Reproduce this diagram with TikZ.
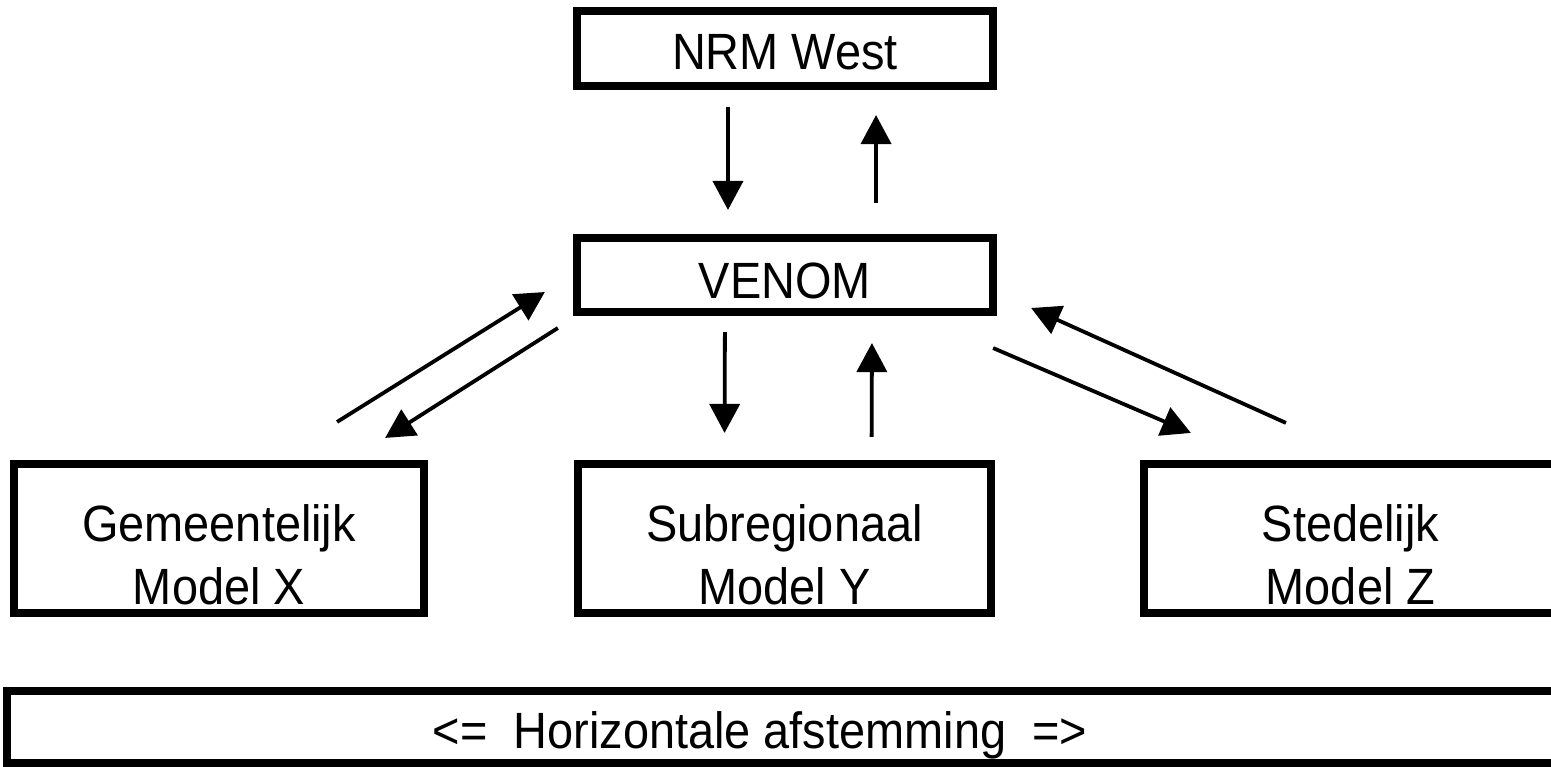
\documentclass[tikz,border=0pt]{standalone}
\usepackage{fontspec}
\setmainfont{Liberation Sans}[FakeStretch=0.92]
\usetikzlibrary{arrows.meta}

\begin{document}
\begin{tikzpicture}[x=0.01cm, y=-0.01cm]
        \tikzstyle{every node}=[font=\fontsize{14.5}{17.9}\selectfont]
        \tikzstyle{box}=[rectangle, draw, line width=0.08cm, inner sep=0pt]
        \tikzstyle{txt}=[align=center, inner sep=0pt]
        \tikzstyle{arr}=[line width=0.038cm, -{Triangle[length=0.29cm, width=0.3cm]}]
        \useasboundingbox (0,0) rectangle (1551,767);

        \node[box, minimum width=4.16cm, minimum height=0.75cm, label={[txt, yshift=-0.04cm]center:NRM West}] (nrm) at (785,48.5) {};
        \node[box, minimum width=4.16cm, minimum height=0.74cm, label={[txt, yshift=-0.06cm]center:VENOM}] (venom) at (785,275) {};

        \node[box, minimum width=4.10cm, minimum height=1.49cm, label={[txt, yshift=-0.16cm]center:{Gemeentelijk\\Model X}}] (gem) at (219,538.5) {};
        \node[box, minimum width=4.13cm, minimum height=1.49cm, label={[txt, yshift=-0.16cm]center:{Subregionaal\\Model Y}}] (sub) at (784.5,538.5) {};
        \node[box, minimum width=4.60cm, minimum height=1.49cm, label={[txt, xshift=-0.235cm, yshift=-0.16cm]center:{Stedelijk\\Model Z}}] (sted) at (1374,538.5) {};

        \node[box, minimum width=16cm, minimum height=0.72cm, label={[txt, xshift=-0.47cm, yshift=-0.08cm]center:{<=\ \ Horizontale afstemming\ \ =>}}] (hor) at (807,727) {};

        % verticaal
        \draw[arr, shorten <=0.17cm, shorten >=0.24cm] ([xshift=-0.57cm]nrm.south) -- ([xshift=-0.57cm]venom.north);
        \draw[arr, shorten <=0.31cm, shorten >=0.25cm] ([xshift=0.91cm]venom.north) -- ([xshift=0.91cm]nrm.south);
        \draw[arr, shorten <=0.16cm, shorten >=0.27cm] ([xshift=-0.60cm]venom.south) -- ([xshift=-0.60cm]sub.north);
        \draw[arr, shorten <=0.23cm, shorten >=0.27cm] ([xshift=0.87cm]sub.north) -- ([xshift=0.87cm]venom.south);

        % schuin
        \draw[arr] ([xshift=-0.91cm, yshift=0.38cm]gem.north east) -- ([xshift=-0.28cm, yshift=0.24cm]venom.south west);
        \draw[arr] ([xshift=-0.15cm, yshift=-0.12cm]venom.south west) -- ([xshift=-0.43cm, yshift=0.22cm]gem.north east);
        \draw[arr] ([xshift=-0.04cm, yshift=-0.32cm]venom.south east) -- ([xshift=0.51cm, yshift=0.27cm]sted.north west);
        \draw[arr] ([xshift=1.46cm, yshift=0.37cm]sted.north west) -- ([xshift=0.34cm, yshift=0.08cm]venom.south east);
\end{tikzpicture}
\end{document}
